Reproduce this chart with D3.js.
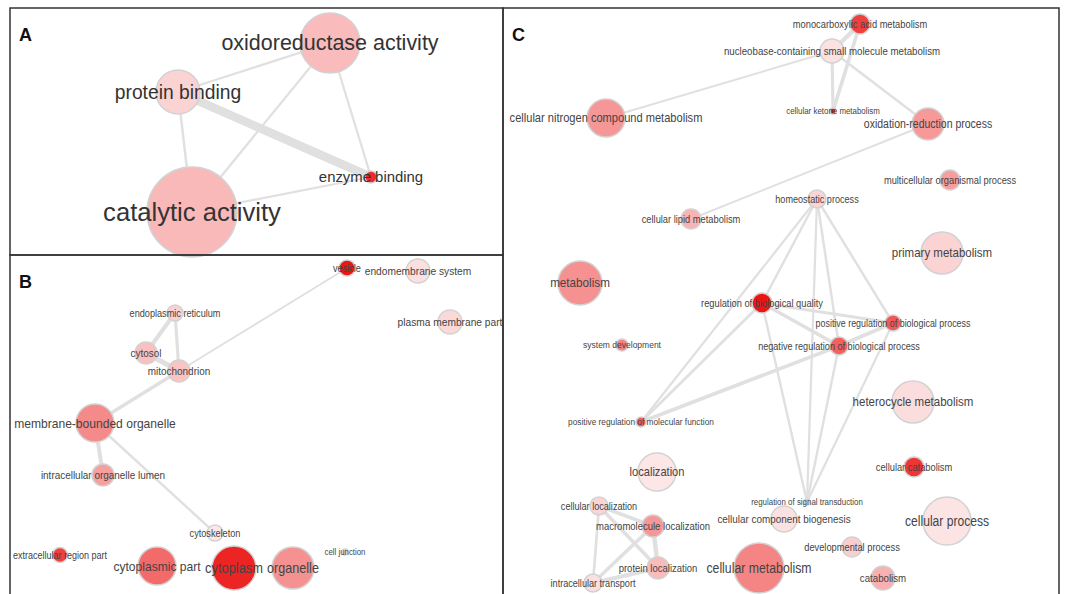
<!DOCTYPE html>
<html>
<head>
<meta charset="utf-8">
<script src="https://cdn.jsdelivr.net/npm/d3@7"></script>
<style>
  body { margin: 0; background: #fff; }
  svg { display: block; }
  .label { font-family: "Liberation Sans", Arial, sans-serif; }
  .letter { font-family: "Liberation Sans", Arial, sans-serif; font-weight: bold; font-size: 18px; fill: #111; }
</style>
</head>
<body>
<div id="chart"></div>
<script>
// A: molecular function
const aTerms = ['oxidoreductase activity', 'protein binding', 'catalytic activity', 'enzyme binding'];
const aX = [320, 168, 182, 361];
const aY = [35, 84, 204, 169];
const aSize = [36, 19.4, 81, 1.44];
const aScore = [0.22, 0.11, 0.23, 0.9];
const aLinks = [[0, 1, 0.2], [1, 2, 0.22], [1, 3, 0.9], [0, 2, 0.2], [0, 3, 0.2], [2, 3, 0.2]];

// B: cellular component
const bTerms = ['vesicle', 'endomembrane system', 'endoplasmic reticulum', 'plasma membrane part',
  'cytosol', 'mitochondrion', 'membrane-bounded organelle', 'intracellular organelle lumen',
  'cytoskeleton', 'extracellular region part', 'cytoplasmic part', 'cytoplasm', 'organelle', 'cell junction'];
const bX = [337, 408, 165, 440, 136, 169, 85, 93, 205, 50, 147, 224, 283, 335];
const bY = [13, 16, 58, 67, 98, 116, 168, 220, 278, 300, 311, 313, 313, 297];
const bSize = [2.56, 5.76, 2.56, 5.76, 4.84, 4.84, 14.44, 4.84, 2.56, 2.25, 14.44, 19.36, 17.64, 0.36];
const bScore = [1.0, 0.05, 0.12, 0.08, 0.2, 0.18, 0.45, 0.35, 0.01, 0.8, 0.6, 0.93, 0.42, 0.1];
const bLinks = [[0, 5, 0.17], [5, 6, 0.33], [2, 4, 0.4], [2, 5, 0.3], [4, 5, 0.5], [6, 7, 0.4], [6, 8, 0.22]];

// C: biological process
const cTerms = ['monocarboxylic acid metabolism', 'nucleobase-containing small molecule metabolism',
  'cellular ketone metabolism', 'cellular nitrogen compound metabolism', 'oxidation-reduction process',
  'multicellular organismal process', 'homeostatic process', 'cellular lipid metabolism',
  'primary metabolism', 'metabolism', 'regulation of biological quality',
  'positive regulation of biological process', 'system development',
  'negative regulation of biological process', 'heterocycle metabolism',
  'positive regulation of molecular function', 'localization', 'cellular catabolism',
  'regulation of signal transduction', 'cellular localization', 'cellular component biogenesis',
  'cellular process', 'macromolecule localization', 'developmental process', 'cellular metabolism',
  'protein localization', 'catabolism', 'intracellular transport'];
const cX = [357, 329, 330, 103, 425, 447, 314, 188, 439, 77, 259, 390, 119, 336, 410, 138, 154, 411,
  304, 96, 281, 444, 150, 349, 256, 155, 380, 90];
const cY = [16, 43, 103, 110, 116, 172, 191, 211, 245, 275, 295, 315, 337, 338, 394, 414, 464, 459,
  494, 498, 511, 513, 518, 539, 560, 560, 570, 575];
const cSize = [4, 5.76, 0.36, 14.44, 10.24, 4, 3.24, 4, 17.64, 19.36, 4, 2.56, 1.44, 3.24, 17.64, 1,
  14.44, 4, 0.36, 3.24, 6.76, 23.04, 4.84, 4, 25, 4.84, 5.76, 3.24];
const cScore = [0.8, 0.04, 0.98, 0.39, 0.38, 0.36, 0.1, 0.26, 0.11, 0.42, 1.0, 0.68, 0.5, 0.65, 0.06,
  0.66, 0.02, 0.85, 0.1, 0.1, 0.04, 0.03, 0.39, 0.13, 0.48, 0.22, 0.27, 0.05];
const cLinks = [[0, 1, 0.45], [0, 2, 0.35], [1, 2, 0.3], [1, 3, 0.17], [1, 4, 0.22], [4, 7, 0.17],
  [6, 10, 0.22], [6, 15, 0.2], [6, 18, 0.2], [6, 13, 0.22], [6, 11, 0.22], [10, 11, 0.3],
  [10, 13, 0.35], [10, 15, 0.25], [10, 18, 0.22], [11, 13, 0.35], [13, 15, 0.35], [13, 18, 0.22],
  [11, 18, 0.2], [19, 22, 0.35], [19, 25, 0.35], [19, 27, 0.25], [22, 25, 0.45], [22, 27, 0.35],
  [25, 27, 0.4]];

const W = 1065, H = 594;

const svg = d3.select('#chart')
  .append('svg')
  .attr('width', W)
  .attr('height', H);

const radius = d3.scaleSqrt().domain([0, 100]).range([0, 50]);
const fill = d3.scaleLinear().domain([0, 1]).range(['#fdeaea', '#ec1515']);
const edgeWidth = d3.scaleLinear().domain([0, 1]).range([0.4, 9.5]);

const panels = [
  { letter: 'A', box: [10, 8, 503, 255], terms: aTerms, xs: aX, ys: aY, size: aSize, score: aScore,
    links: aLinks, font: [14.9, 25.6], squeeze: 1, ink: '#333' },
  { letter: 'B', box: [10, 255, 503, 640], terms: bTerms, xs: bX, ys: bY, size: bSize, score: bScore,
    links: bLinks, font: [8.7, 14.3], squeeze: 0.9, ink: '#444' },
  { letter: 'C', box: [503, 8, 1059, 640], terms: cTerms, xs: cX, ys: cY, size: cSize, score: cScore,
    links: cLinks, font: [9.2, 14.3], squeeze: 0.86, ink: '#444' }
];

function drawPanel(p) {
  const [x0, y0, x1, y1] = p.box;
  const x = d3.scaleLinear().domain([0, x1 - x0]).range([x0, x1]);
  const y = d3.scaleLinear().domain([0, y1 - y0]).range([y0, y1]);

  const nodes = p.terms.map((t, i) => ({
    term: t, cx: x(p.xs[i]), cy: y(p.ys[i]), r: radius(p.size[i]), score: p.score[i]
  }));
  const fontSize = d3.scaleLinear()
    .domain(d3.extent(nodes, (d) => d.r))
    .range(p.font)
    .clamp(true);

  const g = svg.append('g');

  g.selectAll('line.edge')
    .data(p.links)
    .enter()
    .append('line')
    .attr('class', 'edge')
    .attr('x1', (d) => nodes[d[0]].cx)
    .attr('y1', (d) => nodes[d[0]].cy)
    .attr('x2', (d) => nodes[d[1]].cx)
    .attr('y2', (d) => nodes[d[1]].cy)
    .attr('stroke', '#e0e0e0')
    .attr('stroke-width', (d) => edgeWidth(d[2]));

  g.selectAll('circle')
    .data(nodes)
    .enter()
    .append('circle')
    .attr('cx', (d) => d.cx)
    .attr('cy', (d) => d.cy)
    .attr('r', (d) => d.r)
    .attr('fill', (d) => fill(d.score))
    .attr('stroke', '#d2d2d2')
    .attr('stroke-width', 1.5);

  g.selectAll('text.label')
    .data(nodes)
    .enter()
    .append('text')
    .attr('class', 'label')
    .attr('fill', p.ink)
    .attr('transform', (d) => `translate(${d.cx},${d.cy}) scale(${p.squeeze},1)`)
    .attr('text-anchor', 'middle')
    .attr('dominant-baseline', 'central')
    .style('font-size', (d) => fontSize(d.r) + 'px')
    .text((d) => d.term);

  svg.append('rect')
    .attr('x', x0)
    .attr('y', y0)
    .attr('width', x1 - x0)
    .attr('height', y1 - y0)
    .attr('fill', 'none')
    .attr('stroke', '#333')
    .attr('stroke-width', 1.5);

  svg.append('text')
    .attr('class', 'letter')
    .attr('x', x0 + 9)
    .attr('y', y0 + 33)
    .text(p.letter);
}

panels.forEach(drawPanel);
</script>
</body>
</html>
